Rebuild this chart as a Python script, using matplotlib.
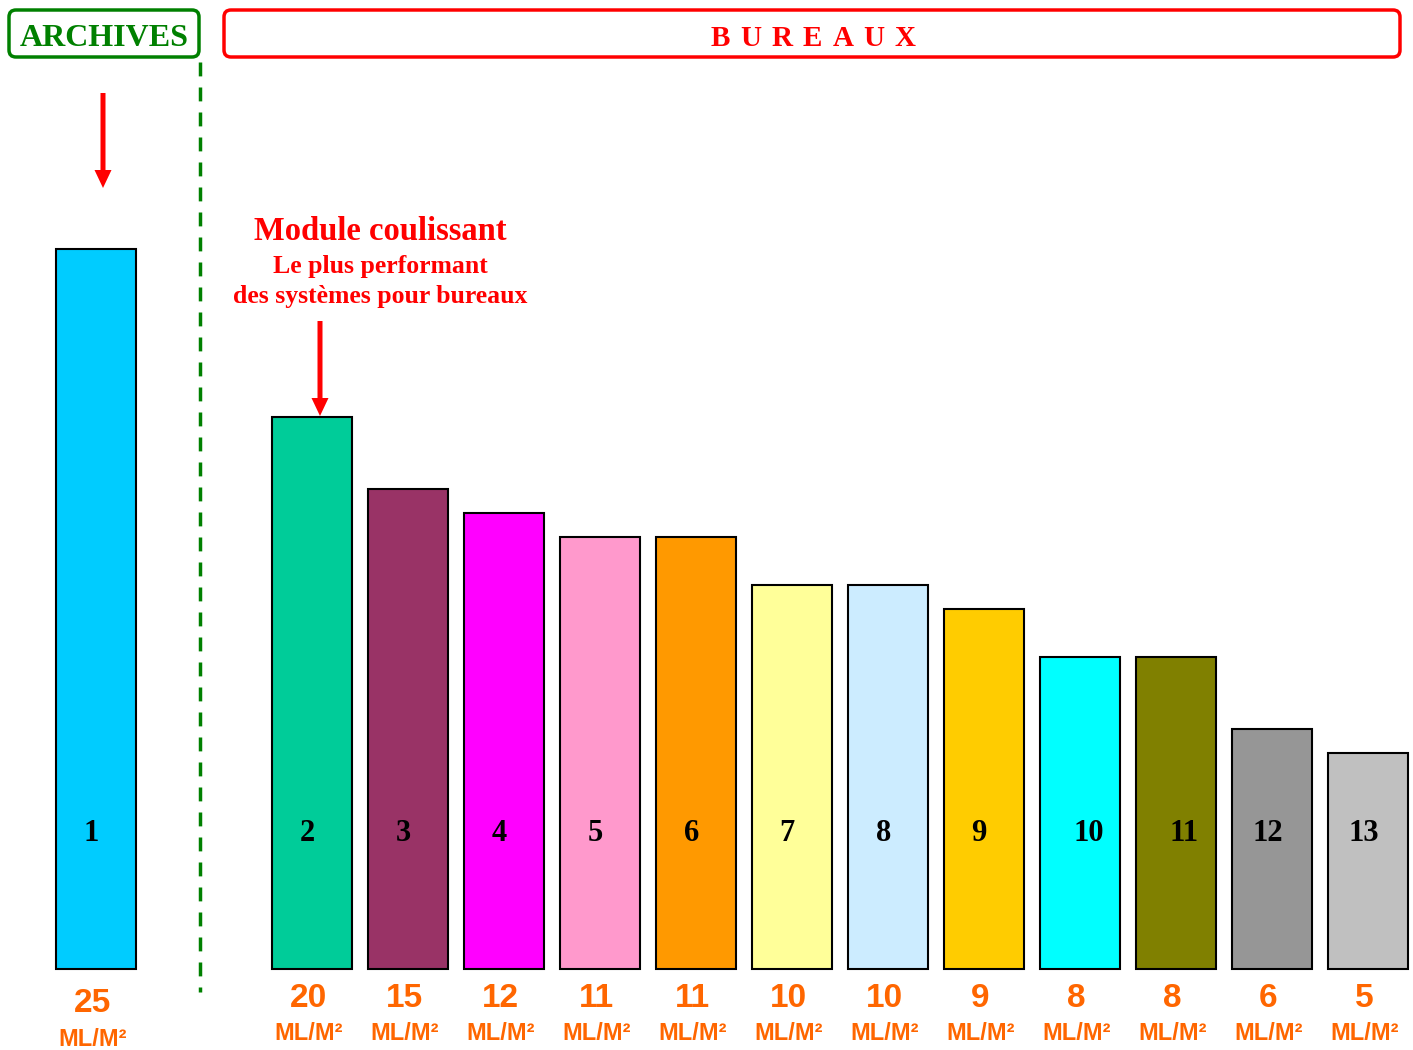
import matplotlib
matplotlib.use("Agg")
import matplotlib.pyplot as plt
from matplotlib.patches import FancyBboxPatch

# ---- data ----
bar_ids = ["1", "2", "3", "4", "5", "6", "7", "8", "9", "10", "11", "12", "13"]
bar_heights = [30, 23, 20, 19, 18, 18, 16, 16, 15, 13, 13, 10, 9]
values = ["25", "20", "15", "12", "11", "11", "10", "10", "9", "8", "8", "6", "5"]
unit_label = "ML/M²"
colors = ["#00CCFF", "#00CC99", "#993366", "#FF00FF", "#FF99CC", "#FF9900",
          "#FFFF99", "#CCECFF", "#FFCC00", "#00FFFF", "#808000", "#969696", "#C0C0C0"]
positions = [-2.25] + list(range(12))

W, H = 1413, 1050
fig = plt.figure(figsize=(W / 100, H / 100), dpi=100)

# main axes: x in slot units (96 px), y in units of 24 px
ax = fig.add_axes([0, 0, 1, 1])
ax.set_xlim(-312 / 96, (W - 312) / 96)
ax.set_ylim(-(H - 969) / 24, 969 / 24)
ax.axis("off")

ax.bar(positions, bar_heights, width=80 / 96, color=colors,
       edgecolor="black", linewidth=1.5, zorder=2)

serif = ["Liberation Serif", "DejaVu Serif"]
narrow = ["Liberation Sans Narrow", "Liberation Sans", "DejaVu Sans"]

label_dx = [-0.05] * 9 + [0.09, 0.08, -0.04, -0.04]
for i, (p, lab) in enumerate(zip(positions, bar_ids)):
    ax.text(p + label_dx[i], 5.65, lab, ha="center", va="center", fontsize=22,
            fontweight="bold", family=serif, color="black", zorder=3)
    vy = -1.45 if i == 0 else -1.22
    uy = -2.95 if i == 0 else -2.67
    ax.text(p - 0.04, vy, values[i], ha="center", va="center", fontsize=24,
            fontweight="bold", family=narrow, color="#FF6600")
    ax.text(p - 0.04, uy, unit_label, ha="center", va="center", fontsize=17,
            fontweight="bold", family=narrow, color="#FF6600")

# overlay axes in pixel coords for decorations
ov = fig.add_axes([0, 0, 1, 1], facecolor="none")
ov.set_xlim(0, W)
ov.set_ylim(H, 0)
ov.axis("off")

ov.add_patch(FancyBboxPatch((9, 10), 190, 47, boxstyle="round,pad=0,rounding_size=7",
                            fill=False, edgecolor="#008000", linewidth=2.5))
ov.text(104, 38, "ARCHIVES", ha="center", va="center", fontsize=23,
        fontweight="bold", family=serif, color="#008000")

ov.add_patch(FancyBboxPatch((224, 10), 1176, 47, boxstyle="round,pad=0,rounding_size=7",
                            fill=False, edgecolor="#FF0000", linewidth=2.5))
for k, ch in enumerate("BUREAUX"):
    ov.text(720 + 30.8 * k, 38, ch, ha="center", va="center", fontsize=21,
            fontweight="bold", family=serif, color="#FF0000")

ov.plot([200, 200], [62, 992], color="#008000", linewidth=2.5,
        linestyle=(0, (4, 3.2)))

ov.arrow(103, 93, 0, 95, width=5, head_width=17, head_length=18,
         length_includes_head=True, color="#FF0000", linewidth=0)
ov.arrow(320, 321, 0, 95, width=5, head_width=17, head_length=18,
         length_includes_head=True, color="#FF0000", linewidth=0)

ov.text(380, 232, "Module coulissant", ha="center", va="center", fontsize=23.5,
        fontweight="bold", family=serif, color="#FF0000")
ov.text(380, 266, "Le plus performant", ha="center", va="center", fontsize=18.5,
        fontweight="bold", family=serif, color="#FF0000")
ov.text(380, 297, "des systèmes pour bureaux", ha="center", va="center", fontsize=18.5,
        fontweight="bold", family=serif, color="#FF0000")

fig.savefig("out.png", dpi=100)
